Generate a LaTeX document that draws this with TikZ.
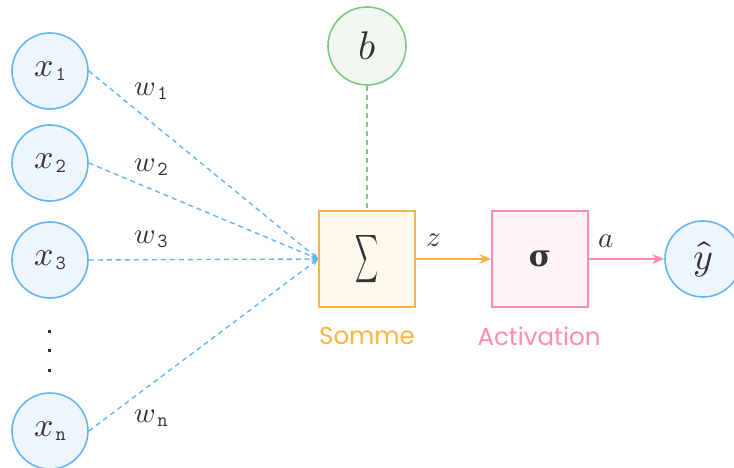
\documentclass[tikz,border=0pt]{standalone}
\usepackage{fontspec}
\usepackage{unicode-math}
\usepackage{graphicx}
\setmathfont{Latin Modern Math}
\newfontfamily\labelfont{Poppins}
\newfontfamily\greekfont{DejaVu Serif}
\usetikzlibrary{arrows.meta}
\definecolor{bluestroke}{HTML}{64B5F6}
\definecolor{bluefill}{HTML}{EEF5FC}
\definecolor{greenstroke}{HTML}{81C784}
\definecolor{greenfill}{HTML}{F1F8F1}
\definecolor{orangestroke}{HTML}{FBB540}
\definecolor{orangefill}{HTML}{FFF8EC}
\definecolor{pinkstroke}{HTML}{FF8AB5}
\definecolor{pinkfill}{HTML}{FFF4F8}
\definecolor{txt}{HTML}{333333}
\newcommand\mysub[1]{\kern2pt\raisebox{-4pt}{\fontsize{20}{20}\ttfamily #1}}
\tikzset{
  innode/.style={circle, draw=bluestroke, fill=bluefill, line width=1.6pt, minimum size=76pt, inner sep=0pt, text=txt, font=\fontsize{34}{36}\selectfont},
  biasnode/.style={circle, draw=greenstroke, fill=greenfill, line width=1.6pt, minimum size=78pt, inner sep=0pt, text=txt, font=\fontsize{40}{42}\selectfont},
  sumbox/.style={rectangle, draw=orangestroke, fill=orangefill, line width=1.6pt, minimum size=96pt, inner sep=0pt, text=txt},
  actbox/.style={rectangle, draw=pinkstroke, fill=pinkfill, line width=1.6pt, minimum size=96pt, inner sep=0pt, text=txt},
  wlab/.style={text=txt, font=\fontsize{29}{31}\selectfont, inner sep=0pt},
  caption/.style={font=\labelfont\fontsize{24.5}{27}\selectfont, inner sep=0pt},
  wedge/.style={draw=bluestroke, line width=1.4pt, dash pattern=on 5pt off 4pt, -{Stealth[length=7pt,width=6pt]}},
  bedge/.style={draw=greenstroke, line width=1.4pt, dash pattern=on 5pt off 4pt},
}
\begin{document}
\begin{tikzpicture}[x=1pt,y=-1pt]
\useasboundingbox (0,0) rectangle (734,468);
\node[innode] (x1) at (50,71) {$x$\mysub{1}};
\node[innode] (x2) at (50,163) {$x$\mysub{2}};
\node[innode] (x3) at (50,260) {$x$\mysub{3}};
\node[innode] (xn) at (50,431) {$x$\mysub{n}};
\foreach \yy/\nm in {331/d1,350/d2,370/d3}
  \node[rectangle, fill=txt, inner sep=0pt, minimum size=3pt] (\nm) at (49,\yy) {};
\node[biasnode] (b) at (367,46) {$b$};
\node[sumbox] (sum) at (367,259) {\resizebox{23pt}{32pt}{$\displaystyle\sum$}};
\node[actbox] (act) at (540,259) {\greekfont\bfseries\fontsize{30}{32}\selectfont σ};
\node[innode, font=\fontsize{38}{40}\selectfont] (y) at (703,259) {$\hat{y}$};
\node[wlab] (w1) at (151,91) {$w$\mysub{1}};
\node[wlab] (w2) at (151,167) {$w$\mysub{2}};
\node[wlab] (w3) at (151,239) {$w$\mysub{3}};
\node[wlab] (wn) at (151,418) {$w$\mysub{n}};
\node[wlab] (z) at (434,240) {$z$};
\node[wlab] (a) at (606,241) {$a$};
\node[caption, text=orangestroke] (cs) at (367,336) {Somme};
\node[caption, text=pinkstroke] (ca) at (539,336) {Activation};
\draw[wedge] (x1.east) -- (sum.west);
\draw[wedge] (x2.east) -- (sum.west);
\draw[wedge] (x3.east) -- (sum.west);
\draw[wedge] (xn.east) -- (sum.west);
\draw[bedge] (b.south) -- (sum.north);
\draw[draw=orangestroke, line width=1.6pt, -{Stealth[length=12pt,width=10pt]}] (sum.east) -- (act.west);
\draw[draw=pinkstroke, line width=1.6pt, -{Stealth[length=12pt,width=10pt]}] (act.east) -- (y.west);
\end{tikzpicture}
\end{document}
